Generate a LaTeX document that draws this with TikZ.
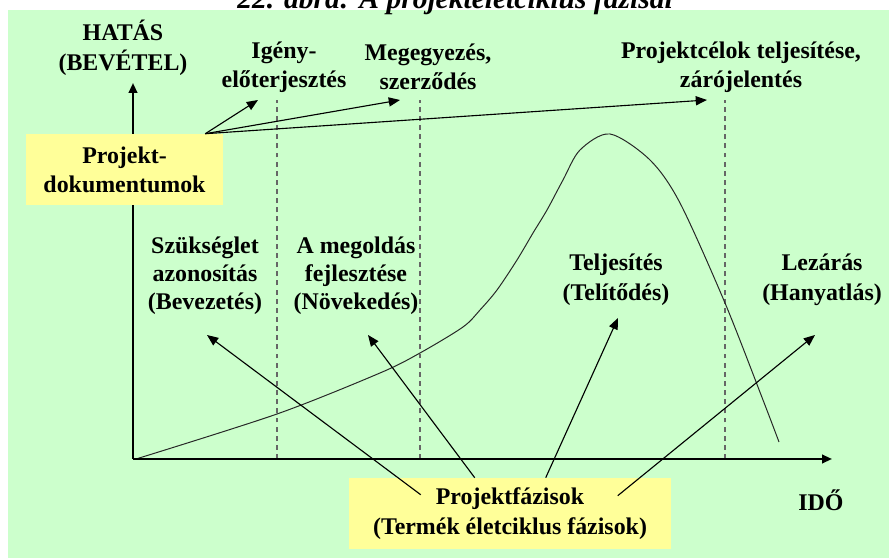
\documentclass[tikz,border=0pt]{standalone}
\usepackage{fontspec}
\setmainfont{Liberation Serif}
\usetikzlibrary{arrows.meta, positioning, calc}
\definecolor{bggreen}{HTML}{CCFFCC}
\definecolor{boxyellow}{HTML}{FFFF99}

\begin{document}
\begin{tikzpicture}[
    lbl/.style={font=\bfseries\fontsize{17}{20.5}\selectfont, align=center, inner sep=0pt},
    box/.style={lbl, fill=boxyellow, minimum height=1.775cm},
    arr/.style={-{Triangle[length=8pt, width=6.5pt]}, line width=0.8pt},
    axis/.style={-{Triangle[length=7pt, width=6pt]}, line width=1.5pt},
    vline/.style={black!60, line width=1.1pt, dash pattern=on 3.5pt off 3pt},
]
    \useasboundingbox (0,0) rectangle (22.225,13.95);
    \fill[bggreen] (0.2,0) rectangle (22.225,13.7);
    \node[font=\bfseries\itshape\fontsize{21}{25}\selectfont, anchor=base] (title) at (11.375,13.74) {22. ábra: A projektéletciklus fázisai};

    \foreach \x in {6.925, 10.5, 18.125}
        \draw[vline] (\x,2.475) -- (\x,11.45);

    \draw[line width=0.7pt, black!85] plot[smooth, tension=0.5] coordinates {(3.4,2.475) (6.925,3.6) (9.5,4.625) (10.5,5.125) (11.575,5.775) (12.0,6.2) (12.425,6.7) (12.925,7.45) (13.325,8.125) (13.675,8.7) (14.075,9.45) (14.5,10.2) (15.25,10.6) (16.25,9.95) (17.0,8.875) (18.125,6.375) (19.075,3.95) (19.475,2.9)};

    \coordinate (o) at (3.325,2.475);
    \coordinate (ytip) at (3.325,11.875);
    \coordinate (xtip) at (20.8,2.475);
    \draw[axis] (o) -- (ytip);
    \draw[axis] (o) -- (xtip);

    \node[box, minimum width=4.925cm] (doc) at (3.1125,9.7125) {Projekt-\\dokumentumok};
    \node[box, minimum width=8.05cm, font=\bfseries\fontsize{17}{21.5}\selectfont] (phase) at (12.75,1.1125) {Projektfázisok\\(Termék életciklus fázisok)};

    \node[lbl, font=\bfseries\fontsize{17}{21.5}\selectfont] (hatas) at (3.075,12.75) {HATÁS\\(BEVÉTEL)};
    \node[lbl] (igeny) at (7.1,12.275) {Igény-\\előterjesztés};
    \node[lbl] (megegy) at (10.7,12.275) {Megegyezés,\\szerződés};
    \node[lbl] (celok) at (18.525,12.275) {Projektcélok teljesítése,\\zárójelentés};

    \node[lbl, font=\bfseries\fontsize{17}{19.8}\selectfont] (szuks) at (5.125,7.05) {Szükséglet\\azonosítás\\(Bevezetés)};
    \node[lbl, font=\bfseries\fontsize{17}{19.8}\selectfont] (megold) at (8.9,7.05) {A megoldás\\fejlesztése\\(Növekedés)};
    \node[lbl, font=\bfseries\fontsize{17}{21.5}\selectfont] (telj) at (15.4,6.95) {Teljesítés\\(Telítődés)};
    \node[lbl, font=\bfseries\fontsize{17}{21.5}\selectfont] (lezar) at (20.55,6.95) {Lezárás\\(Hanyatlás)};
    \node[lbl] (ido) at (20.525,1.45) {IDŐ};

    \coordinate (docpt) at ($(doc.north east)+(-0.45,0)$);
    \coordinate (t1) at (6.45,11.45);
    \coordinate (t2) at (10.0,11.45);
    \coordinate (t3) at (17.675,11.45);
    \draw[arr] (docpt) -- (t1);
    \draw[arr] (docpt) -- (t2);
    \draw[arr] (docpt) -- (t3);

    \coordinate (s1) at ($(phase.north west)+(1.8,-0.425)$);
    \coordinate (s2) at ($(phase.north west)+(3.15,0)$);
    \coordinate (s3) at ($(phase.north west)+(4.925,0)$);
    \coordinate (s4) at ($(phase.north west)+(6.725,-0.45)$);
    \coordinate (p1) at (5.175,5.575);
    \coordinate (p2) at (9.2,5.575);
    \coordinate (p3) at (15.45,6.0);
    \coordinate (p4) at (20.375,5.575);
    \draw[arr] (s1) -- (p1);
    \draw[arr] (s2) -- (p2);
    \draw[arr] (s3) -- (p3);
    \draw[arr] (s4) -- (p4);
\end{tikzpicture}
\end{document}
